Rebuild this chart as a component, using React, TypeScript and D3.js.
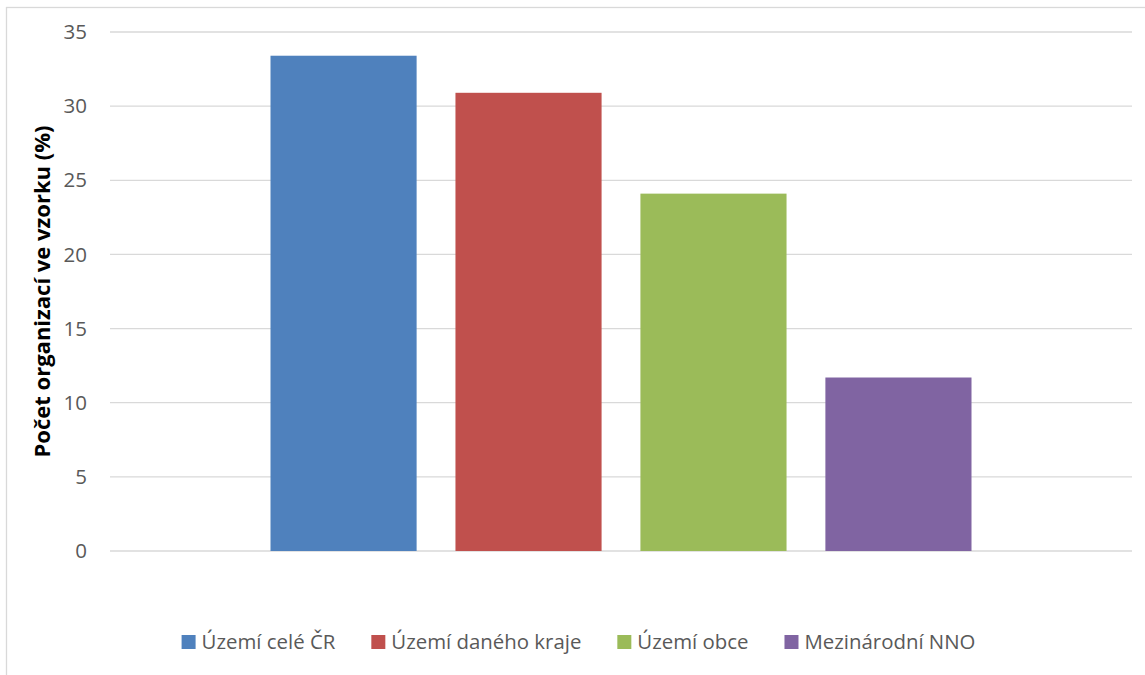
import React, { useEffect, useRef } from "react";
import * as d3 from "d3";

const seriesNames = ["Území celé ČR", "Území daného kraje", "Území obce", "Mezinárodní NNO"];
const seriesValues = [33.4, 30.9, 24.1, 11.7];
const seriesColors = ["#4f81bd", "#c0504d", "#9bbb59", "#8064a2"];
const yTicks = [0, 5, 10, 15, 20, 25, 30, 35];
const yTitle = "Počet organizací ve vzorku (%)";

const W = 1145;
const H = 675;
const FONT = "'Open Sans', 'Noto Sans', sans-serif";

export default function App() {
  const ref = useRef<SVGSVGElement>(null);

  useEffect(() => {
    const svg = d3.select(ref.current);
    svg.selectAll("*").remove();

    const plot = { left: 110, right: 1132, top: 32, bottom: 551 };

    // chart frame
    svg
      .append("rect")
      .attr("x", 6.5)
      .attr("y", 7.5)
      .attr("width", 1160)
      .attr("height", 720)
      .attr("fill", "#fff")
      .attr("stroke", "#d9d9d9")
      .attr("stroke-width", 1.3);

    const y = d3.scaleLinear().domain([0, 35]).range([plot.bottom, plot.top]);

    // one category, bars grouped in the middle of the band
    const groupPad = 160.5;
    const x = d3
      .scaleBand<string>()
      .domain(seriesNames)
      .range([plot.left + groupPad, plot.right - groupPad])
      .paddingInner(0.21)
      .paddingOuter(0);

    // gridlines
    svg
      .append("g")
      .selectAll("line")
      .data(yTicks)
      .join("line")
      .attr("x1", plot.left)
      .attr("x2", plot.right)
      .attr("y1", (d) => y(d))
      .attr("y2", (d) => y(d))
      .attr("stroke", "#d9d9d9")
      .attr("stroke-width", 1.3);

    // tick labels
    svg
      .append("g")
      .selectAll("text")
      .data(yTicks)
      .join("text")
      .attr("x", 87)
      .attr("y", (d) => y(d))
      .attr("dy", "0.35em")
      .attr("text-anchor", "end")
      .attr("font-family", FONT)
      .attr("font-size", 20.5)
      .attr("fill", "#595959")
      .text((d) => String(d));

    // bars
    svg
      .append("g")
      .selectAll("rect")
      .data(seriesNames)
      .join("rect")
      .attr("x", (d) => x(d)!)
      .attr("width", x.bandwidth())
      .attr("y", (_, i) => y(seriesValues[i]))
      .attr("height", (_, i) => plot.bottom - y(seriesValues[i]))
      .attr("fill", (_, i) => seriesColors[i]);

    // axis title
    svg
      .append("text")
      .attr("transform", `translate(42,${(plot.top + plot.bottom) / 2}) rotate(-90)`)
      .attr("dy", "0.35em")
      .attr("text-anchor", "middle")
      .attr("font-family", FONT)
      .attr("font-weight", "bold")
      .attr("font-size", 22)
      .attr("fill", "#000")
      .text(yTitle);

    // legend
    const legend = svg.append("g");
    const sw = 14;
    const swGap = 6;
    const itemGap = 36;
    const legendY = 642;
    const items = seriesNames.map((name, i) => {
      const g = legend.append("g");
      g.append("rect")
        .attr("width", sw)
        .attr("height", sw)
        .attr("y", legendY - sw / 2)
        .attr("fill", seriesColors[i]);
      const t = g
        .append("text")
        .attr("x", sw + swGap)
        .attr("y", legendY)
        .attr("dy", "0.35em")
        .attr("font-family", FONT)
        .attr("font-size", 20.4)
        .attr("fill", "#595959")
        .text(name);
      const w = sw + swGap + (t.node() as SVGTextElement).getComputedTextLength();
      return { g, w };
    });
    const total = d3.sum(items, (d) => d.w) + itemGap * (items.length - 1);
    let cx = 578.5 - total / 2;
    items.forEach(({ g, w }) => {
      g.attr("transform", `translate(${cx},0)`);
      cx += w + itemGap;
    });
  }, []);

  return (
    <svg
      ref={ref}
      width={W}
      height={H}
      style={{ position: "absolute", left: 0, top: 0, display: "block", background: "#fff" }}
    />
  );
}
